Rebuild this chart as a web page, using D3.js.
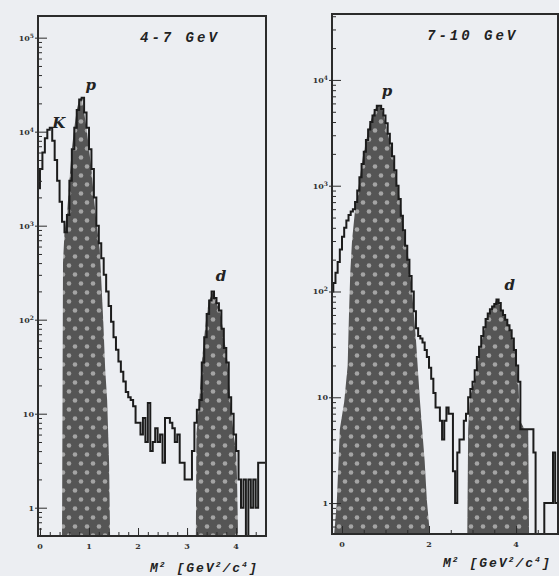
<!DOCTYPE html>
<html lang="en">
<head>
<meta charset="UTF-8">
<title>M2 spectra, 4-7 GeV and 7-10 GeV</title>
<script src="https://d3js.org/d3.v7.min.js"></script>
<style>
    body {
        margin: 0;
        background: #eceef2;
    }
    svg { display: block; }
    .frame { fill: none; stroke: #2b2b2b; stroke-width: 2px; }
    .hist { fill: none; stroke: #1c1c1c; stroke-width: 2px; stroke-linejoin: miter; }
    .tick line { stroke: #2b2b2b; stroke-width: 1px; }
    .tick text { display: none; }
    .domain { display: none; }
    .ylab, .xlab {
        font-family: "DejaVu Serif", serif;
        font-size: 8px;
        font-weight: bold;
        fill: #333;
    }
    .title {
        font-family: "Liberation Mono", monospace;
        font-style: italic;
        font-weight: bold;
        font-size: 14px;
        letter-spacing: 3px;
        fill: #222;
    }
    .peak {
        font-family: "DejaVu Serif", serif;
        font-style: italic;
        font-weight: bold;
        font-size: 15px;
        fill: #222;
    }
    .axtitle {
        font-family: "Liberation Mono", monospace;
        font-style: italic;
        font-weight: bold;
        font-size: 13px;
        letter-spacing: 2px;
        fill: #222;
    }
</style>
</head>
<body>
<svg width="559" height="576"></svg>
<script>
// ---- data ----
const binWidth = 0.05;

// 4-7 GeV panel, bins start at M2 = -0.05
const lowStart = -0.05;
const lowCounts = [
    2500, 4000, 6000, 8500, 10500, 11000, 8000, 5000, 3000, 1800,   // -0.05 .. 0.40
    1100, 850, 1300, 3000, 6500, 11000, 17000, 22000, 23000, 16000, // 0.45 .. 0.90
    11000, 6500, 4000, 2000, 1000, 650, 450, 300, 200, 140,         // 0.95 .. 1.40
    95, 65, 48, 36, 28, 22, 17, 15, 14, 12,                         // 1.45 .. 1.90
    8, 8, 6, 9, 5, 13, 4, 5, 7, 5,                                  // 1.95 .. 2.40
    6, 3, 9, 9, 8, 7, 5, 6, 3, 3,                                   // 2.45 .. 2.90
    2, 2, 2, 4, 8, 11, 14, 35, 65, 115,                             // 2.95 .. 3.40
    160, 200, 170, 150, 125, 80, 50, 35, 15, 10,                    // 3.45 .. 3.90
    6, 4, 2, 1, 2, 0, 2, 1, 2, 1,                                   // 3.95 .. 4.40
    3, 3, 3                                                         // 4.45 .. 4.55
];
// shaded regions (M2, counts) along their upper edge
const lowProton = [
    [0.45, 0.4], [0.47, 400], [0.5, 850], [0.55, 1300], [0.6, 3000], [0.65, 6500],
    [0.7, 11000], [0.75, 17000], [0.8, 22000], [0.85, 23000], [0.9, 16000],
    [0.95, 11000], [1.0, 6500], [1.05, 4000], [1.1, 2000], [1.16, 1000],
    [1.22, 550], [1.29, 100], [1.33, 30], [1.37, 14], [1.41, 3], [1.43, 0.4]
];
const lowDeuteron = [
    [3.18, 0.4], [3.19, 6], [3.25, 14], [3.3, 35], [3.35, 65], [3.4, 115],
    [3.45, 160], [3.53, 200], [3.6, 150], [3.67, 125], [3.73, 80], [3.82, 37],
    [3.88, 14], [3.95, 6], [4.0, 4], [4.02, 2], [4.04, 0.4]
];

// 7-10 GeV panel, bins start at M2 = -0.25
const highStart = -0.25;
const highCounts = [
    100, 120, 150, 190, 250, 330, 400, 470, 530, 570,               // -0.25 .. 0.20
    600, 700, 900, 1200, 1600, 2100, 2700, 3400, 4000, 4600,        // 0.25 .. 0.70
    5200, 5700, 5700, 5300, 4600, 3900, 3100, 2500, 1900, 1400,     // 0.75 .. 1.20
    1000, 750, 520, 380, 270, 200, 140, 100, 65, 45,                // 1.25 .. 1.70
    38, 36, 33, 28, 24, 19, 15, 11, 8, 8,                           // 1.75 .. 2.20
    6, 4, 6, 8, 7, 7, 2, 1, 3, 4,                                   // 2.25 .. 2.70
    4, 6, 7, 10, 12, 14, 18, 24, 30, 38,                            // 2.75 .. 3.20
    46, 55, 62, 68, 72, 76, 84, 78, 66, 60,                         // 3.25 .. 3.70
    54, 48, 43, 36, 28, 20, 14, 5, 5, 5,                            // 3.75 .. 4.20
    5, 5, 5, 3, 0, 0, 0, 0, 1, 1,                                   // 4.25 .. 4.70
    1, 1, 3, 1                                                      // 4.75 .. 4.90
];
const highProton = [
    [-0.18, 0.4], [-0.12, 1], [-0.05, 5], [0.05, 9], [0.13, 20], [0.16, 60],
    [0.19, 150], [0.23, 300], [0.3, 590], [0.37, 910], [0.48, 1900], [0.64, 3900],
    [0.75, 5200], [0.83, 5800], [0.92, 5300], [1.0, 3900], [1.17, 1900],
    [1.33, 735], [1.4, 440], [1.52, 213], [1.61, 100], [1.7, 35], [1.79, 9.4],
    [1.9, 2.5], [1.95, 1.07], [2.02, 0.4]
];
const highDeuteron = [
    [2.88, 0.4], [2.9, 5], [2.94, 10], [3.06, 14.6], [3.17, 28], [3.33, 57],
    [3.47, 71], [3.55, 84], [3.6, 80], [3.7, 62], [3.86, 46], [3.98, 28],
    [4.05, 15.5], [4.09, 6], [4.2, 5], [4.28, 5], [4.3, 0.4]
];

// axis tick labels
const lowXLabels = [0, 1, 2, 3, 4];
const highXLabels = [0, 2, 4];
const lowDecades = [0, 1, 2, 3, 4, 5];
const highDecades = [0, 1, 2, 3, 4];

// peak names with the (M2, counts) of the peak top
const lowPeaks = [["K", 0.2, 11000], ["p", 0.85, 23000], ["d", 3.53, 200]];
const highPeaks = [["p", 0.83, 5800], ["d", 3.58, 84]];

const svg = d3.select("svg");

// dotted fill used under the fitted peaks
const defs = svg.append("defs");
const pat = defs.append("pattern")
    .attr("id", "dots")
    .attr("patternUnits", "userSpaceOnUse")
    .attr("width", 12)
    .attr("height", 18);
pat.append("rect").attr("width", 12).attr("height", 18).attr("fill", "#555");
pat.append("circle").attr("cx", 3).attr("cy", 4.5).attr("r", 2.3).attr("fill", "#a4a4a4");
pat.append("circle").attr("cx", 9).attr("cy", 13.5).attr("r", 2.3).attr("fill", "#a4a4a4");

const panels = [
    {
        id: "low", left: 38, right: 266, top: 16, bottom: 536,
        xDomain: [-0.04, 4.61], yDomain: [0.5, 1.7e5],
        start: lowStart, counts: lowCounts, shades: [lowProton, lowDeuteron],
        xLabels: lowXLabels, xMinor: 0.2, decades: lowDecades, peaks: lowPeaks,
        labelShift: [[9, 0], [9, -8], [8, -10]],
        title: "4-7  GeV", titleX: 140, titleY: 42,
        axX: 150, axY: 572
    },
    {
        id: "high", left: 332, right: 558, top: 14, bottom: 534,
        xDomain: [-0.23, 4.965], yDomain: [0.51, 4.2e4],
        start: highStart, counts: highCounts, shades: [highProton, highDeuteron],
        xLabels: highXLabels, xMinor: 0.5, decades: highDecades, peaks: highPeaks,
        labelShift: [[9, -9], [12, -10]],
        title: "7-10  GeV", titleX: 427, titleY: 40,
        axX: 443, axY: 567
    }
];

panels.forEach(p => {
    const x = d3.scaleLinear().domain(p.xDomain).range([p.left, p.right]);
    const y = d3.scaleLog().domain(p.yDomain).range([p.bottom, p.top]);
    const yMin = p.yDomain[0];
    const g = svg.append("g");

    g.append("clipPath").attr("id", "clip-" + p.id)
        .append("rect")
        .attr("x", p.left).attr("y", p.top)
        .attr("width", p.right - p.left).attr("height", p.bottom - p.top);

    const plot = g.append("g").attr("clip-path", `url(#clip-${p.id})`);

    // shaded peaks
    const area = d3.area()
        .x(d => x(d[0]))
        .y0(p.bottom)
        .y1(d => y(Math.max(d[1], yMin)));
    p.shades.forEach(s => {
        plot.append("path").attr("d", area(s)).attr("fill", "url(#dots)");
    });

    // histogram as a step line
    const pts = p.counts.map((c, i) => [p.start + i * binWidth, c]);
    pts.push([p.start + p.counts.length * binWidth, p.counts[p.counts.length - 1]]);
    const line = d3.line()
        .x(d => x(d[0]))
        .y(d => y(Math.max(d[1], yMin * 0.9)))
        .curve(d3.curveStepAfter);
    plot.append("path").attr("class", "hist").attr("d", line(pts));

    // y ticks: majors at decades, minors at 2..9
    const majors = p.decades.map(k => Math.pow(10, k));
    const minors = [];
    p.decades.concat([p.decades[p.decades.length - 1] + 1, -1]).forEach(k => {
        for (let m = 2; m <= 9; m++) {
            const v = m * Math.pow(10, k);
            if (v > yMin && v < p.yDomain[1]) minors.push(v);
        }
    });
    g.append("g").attr("transform", `translate(${p.left},0)`)
        .call(d3.axisLeft(y).tickValues(minors).tickSize(-4));
    g.append("g").attr("transform", `translate(${p.left},0)`)
        .call(d3.axisLeft(y).tickValues(majors).tickSize(-9));
    g.append("g").attr("transform", `translate(${p.left},0)`)
        .call(d3.axisLeft(y).tickValues(majors).tickSize(3));

    majors.forEach((v, i) => {
        const k = p.decades[i];
        const t = g.append("text").attr("class", "ylab")
            .attr("x", p.left - 4).attr("y", y(v) + 3)
            .attr("text-anchor", "end");
        if (k === 0) t.text("1");
        else if (k === 1) t.text("10");
        else {
            t.text("10");
            t.append("tspan").attr("dy", -3).attr("font-size", "6px").text(k);
        }
    });

    // x ticks
    const xMinor = d3.range(Math.ceil(p.xDomain[0] / p.xMinor) * p.xMinor, p.xDomain[1], p.xMinor);
    g.append("g").attr("transform", `translate(0,${p.bottom})`)
        .call(d3.axisBottom(x).tickValues(xMinor).tickSize(-4));
    g.append("g").attr("transform", `translate(0,${p.bottom})`)
        .call(d3.axisBottom(x).tickValues(p.xLabels).tickSize(-8));
    p.xLabels.forEach(v => {
        g.append("text").attr("class", "xlab")
            .attr("x", x(v)).attr("y", p.bottom + 13)
            .attr("text-anchor", "middle")
            .text(v);
    });

    g.append("rect").attr("class", "frame")
        .attr("x", p.left).attr("y", p.top)
        .attr("width", p.right - p.left).attr("height", p.bottom - p.top);

    g.append("text").attr("class", "title")
        .attr("x", p.titleX).attr("y", p.titleY)
        .text(p.title);

    p.peaks.forEach(([name, m2, c], i) => {
        const [dx, dy] = p.labelShift[i];
        g.append("text").attr("class", "peak")
            .attr("x", x(m2) + dx).attr("y", y(c) + dy)
            .attr("text-anchor", "middle")
            .text(name);
    });

    const ax = g.append("text").attr("class", "axtitle")
        .attr("x", p.axX).attr("y", p.axY);
    ax.append("tspan").text("M");
    ax.append("tspan").attr("dy", -5).attr("font-size", "8px").text("2");
    ax.append("tspan").attr("dy", 5).text(" [GeV");
    ax.append("tspan").attr("dy", -5).attr("font-size", "8px").text("2");
    ax.append("tspan").attr("dy", 5).text("/c");
    ax.append("tspan").attr("dy", -5).attr("font-size", "8px").text("4");
    ax.append("tspan").attr("dy", 5).text("]");
});
</script>
</body>
</html>
